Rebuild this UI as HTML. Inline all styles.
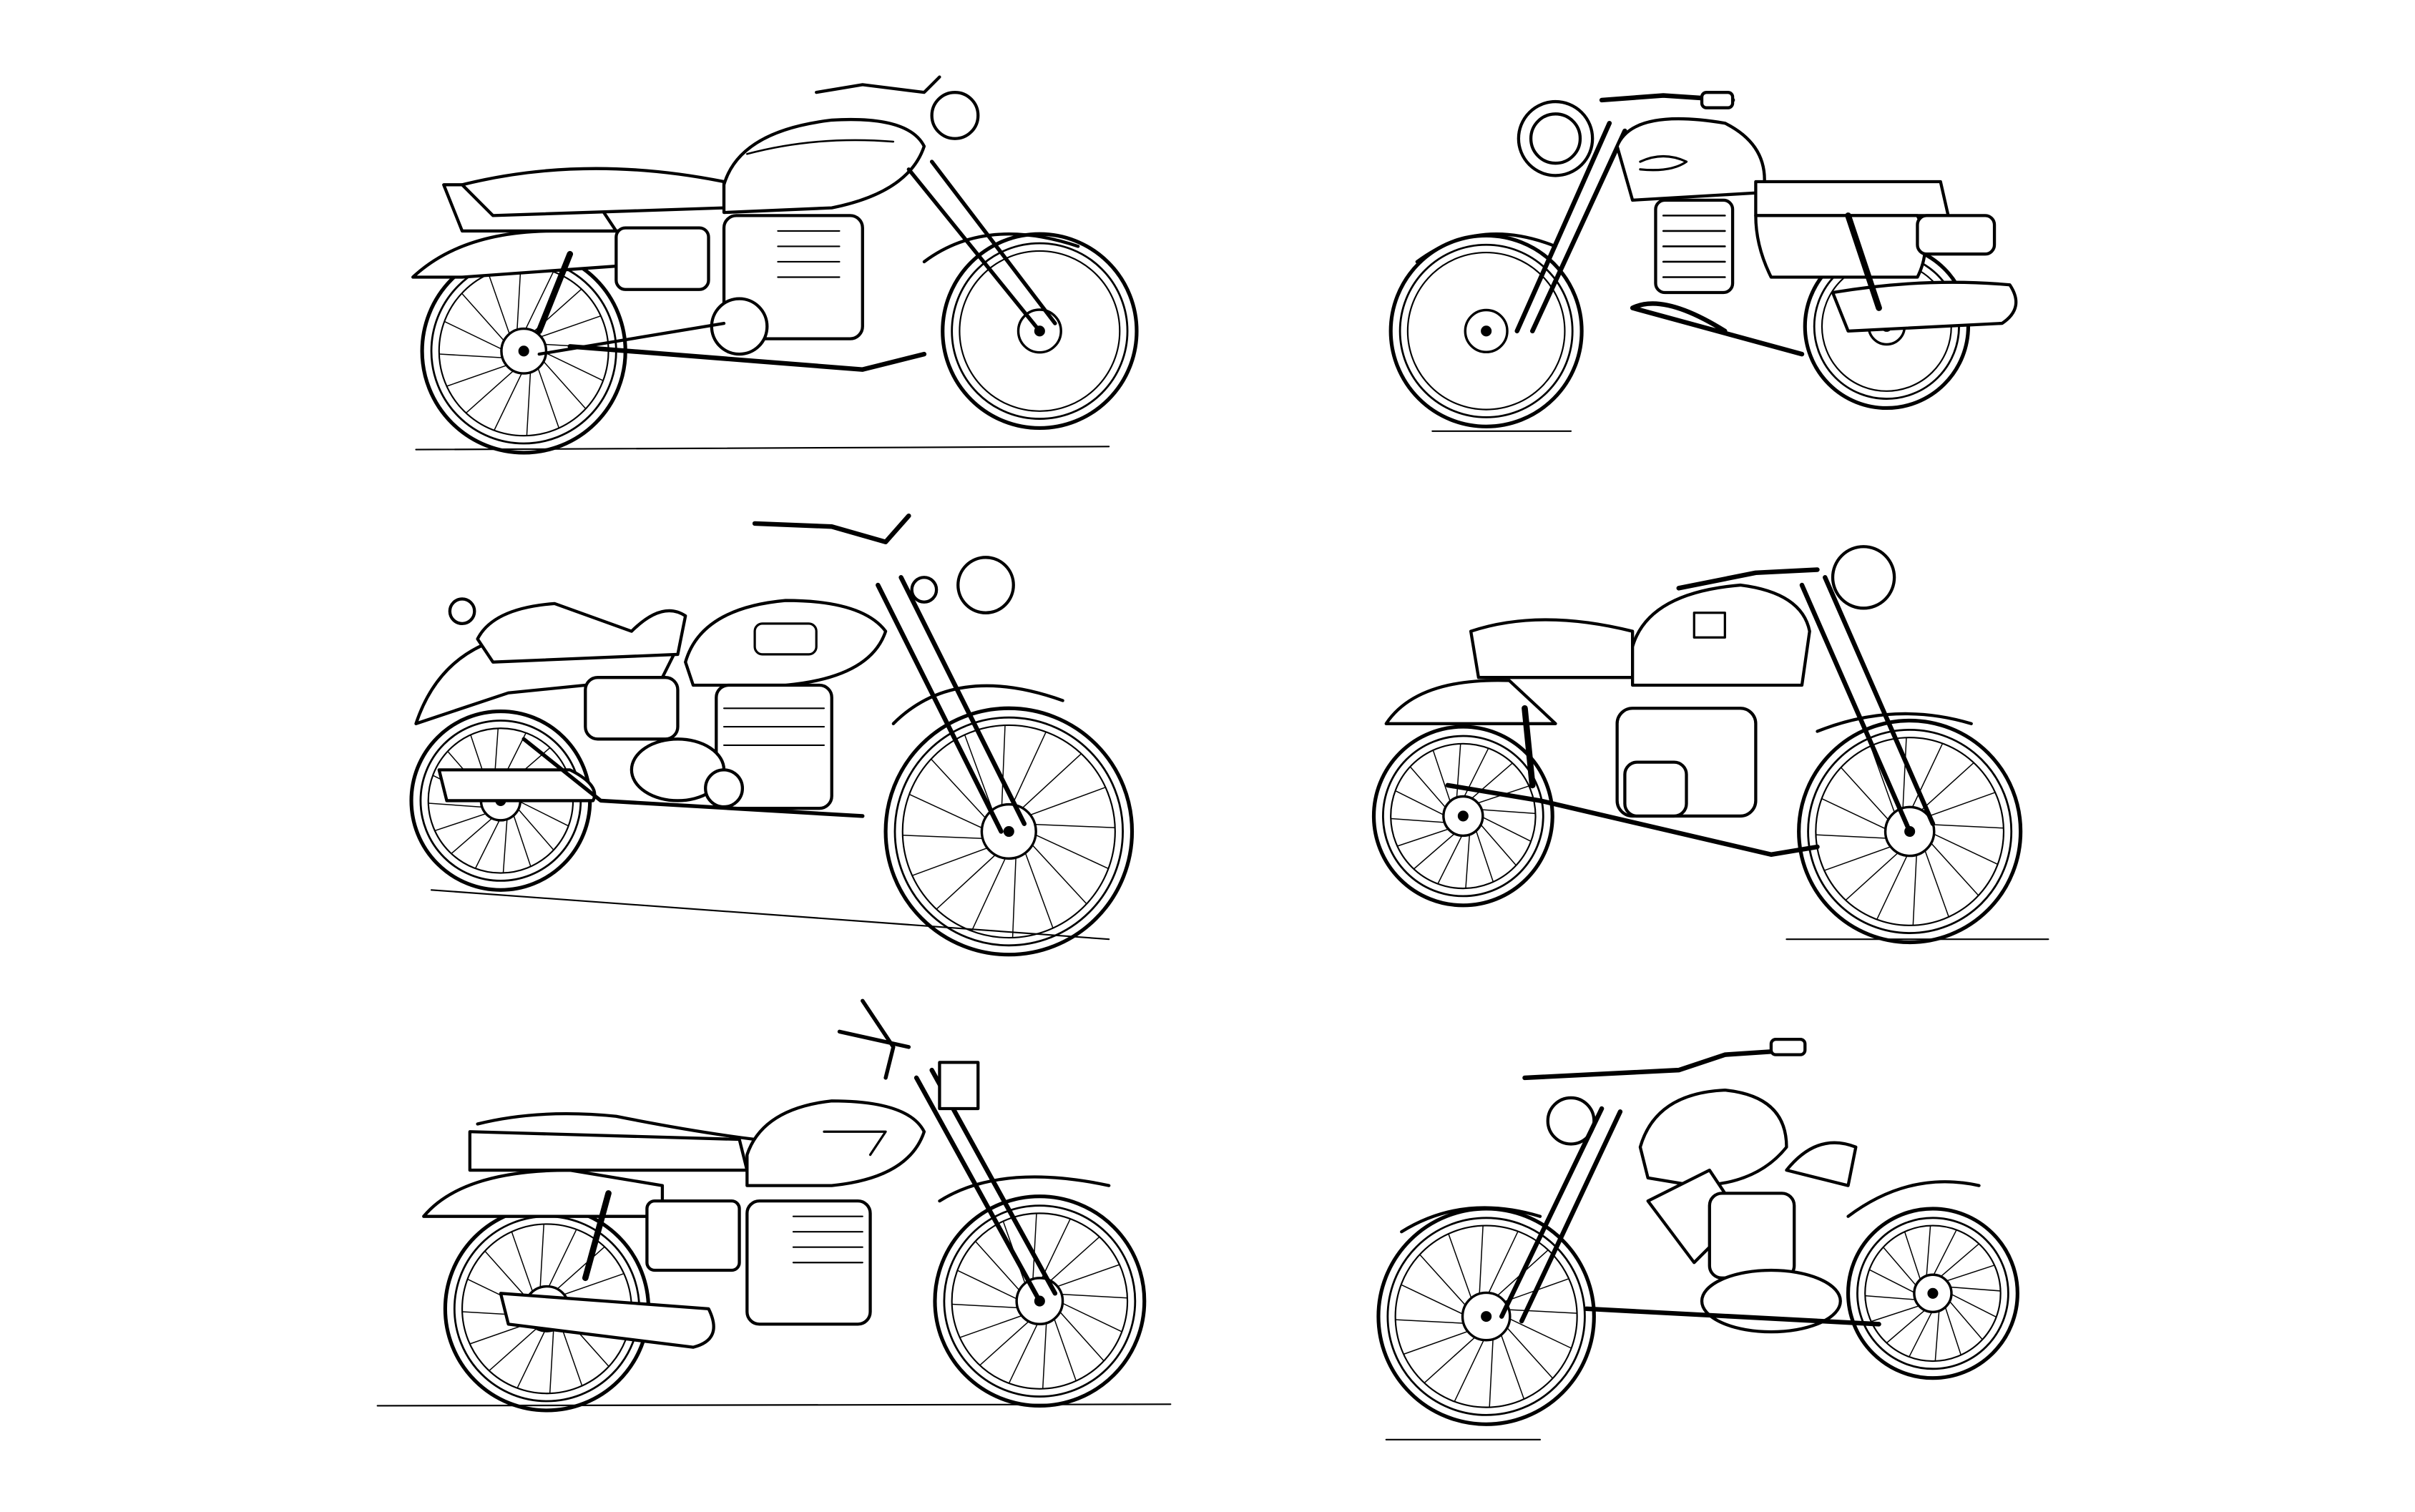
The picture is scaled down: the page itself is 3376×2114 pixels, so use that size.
<!DOCTYPE html>
<html><head><meta charset="utf-8"><style>
html,body{margin:0;padding:0;background:#fff;width:3376px;height:2114px;overflow:hidden}
svg{display:block}
</style></head><body>
<svg id="s" width="3376" height="2114" viewBox="0 0 1568 982" xmlns="http://www.w3.org/2000/svg">
<g id="wheels" fill="#fff" stroke="#000" stroke-linecap="round">
<!-- static tires -->
<g stroke-width="2.4">
<circle cx="340" cy="228" r="66"/><circle cx="675" cy="215" r="63"/>
<circle cx="965" cy="215" r="62"/><circle cx="1225" cy="212" r="53"/>
<circle cx="325" cy="520" r="58"/><circle cx="655" cy="540" r="80"/>
<circle cx="950" cy="530" r="58"/><circle cx="1240" cy="540" r="72"/>
<circle cx="355" cy="850" r="66"/><circle cx="675" cy="845" r="68"/>
<circle cx="965" cy="855" r="70"/><circle cx="1255" cy="840" r="55"/>
</g>
</g>
<g fill="none" stroke="#000" stroke-width="2" stroke-linecap="round" stroke-linejoin="round">

<!-- Bike 1 -->
<line x1="270" y1="292" x2="720" y2="290" stroke-width="1"/>
<path d="M268 180 Q300 150 360 150 L420 150 L440 170 L300 180 Z" fill="#fff"/>
<path d="M288 120 L380 120 L400 150 L300 150 Z" fill="#fff"/>
<path d="M300 120 Q380 100 470 118 L470 135 L320 140 Z" fill="#fff"/>
<path d="M470 120 Q480 85 540 78 Q590 75 600 95 Q590 125 540 135 L470 138 Z" fill="#fff"/>
<path d="M485 100 Q530 88 580 92" stroke-width="1.2"/>
<rect x="400" y="148" width="60" height="40" rx="6" fill="#fff"/>
<rect x="470" y="140" width="90" height="80" rx="8" fill="#fff"/>
<g stroke-width="1"><line x1="505" y1="150" x2="545" y2="150"/><line x1="505" y1="160" x2="545" y2="160"/><line x1="505" y1="170" x2="545" y2="170"/><line x1="505" y1="180" x2="545" y2="180"/></g>
<circle cx="480" cy="212" r="18" fill="#fff"/>
<path d="M370 225 L560 240 L600 230" stroke-width="3"/>
<path d="M350 230 L470 210"/>
<path d="M370 165 L350 215" stroke-width="4"/>
<path d="M590 110 L675 215 M605 105 L685 210" stroke-width="2.5"/>
<circle cx="620" cy="75" r="15" fill="#fff"/>
<path d="M530 60 L560 55 L600 60 L610 50"/>
<path d="M600 170 Q640 140 700 160"/>

<!-- Bike 2 -->
<line x1="930" y1="280" x2="1020" y2="280" stroke-width="1"/>
<circle cx="1010" cy="90" r="24" fill="#fff"/>
<circle cx="1010" cy="90" r="16"/>
<path d="M1040 65 L1080 62 L1125 65" stroke-width="3"/>
<rect x="1105" y="60" width="20" height="10" rx="3" fill="#fff"/>
<path d="M1045 80 L985 215 M1055 85 L995 215" stroke-width="3"/>
<path d="M1050 95 Q1060 70 1120 80 Q1150 95 1145 125 L1060 130 Z" fill="#fff"/>
<path d="M1065 105 Q1080 98 1095 105 Q1085 112 1065 110" stroke-width="1.5"/>
<path d="M1140 118 L1260 118 L1265 140 L1140 140 Z" fill="#fff"/>
<path d="M1140 140 L1245 140 Q1255 160 1245 180 L1150 180 Q1140 160 1140 140 Z" fill="#fff"/>
<rect x="1245" y="140" width="50" height="25" rx="6" fill="#fff"/>
<rect x="1075" y="130" width="50" height="60" rx="6" fill="#fff"/>
<g stroke-width="1.2"><line x1="1080" y1="140" x2="1120" y2="140"/><line x1="1080" y1="150" x2="1120" y2="150"/><line x1="1080" y1="160" x2="1120" y2="160"/><line x1="1080" y1="170" x2="1120" y2="170"/><line x1="1080" y1="180" x2="1120" y2="180"/></g>
<path d="M1060 200 L1170 230 M1060 200 Q1080 190 1120 215" stroke-width="3"/>
<path d="M1190 190 Q1250 180 1305 185 Q1315 200 1300 210 L1200 215 Z" fill="#fff"/>
<path d="M1200 140 L1220 200" stroke-width="4"/>
<path d="M920 170 Q960 140 1010 160"/>

<!-- Bike 3 -->
<line x1="280" y1="578" x2="720" y2="610" stroke-width="1"/>
<path d="M270 470 Q290 410 360 410 L440 420 L430 440 L330 450 Z" fill="#fff"/>
<path d="M310 415 Q320 395 360 392 L410 410 Q430 390 445 400 L440 425 L320 430 Z" fill="#fff"/>
<circle cx="300" cy="397" r="8" fill="#fff"/>
<path d="M445 430 Q455 395 510 390 Q560 390 575 410 Q565 440 510 445 L450 445 Z" fill="#fff"/>
<rect x="490" y="405" width="40" height="20" rx="5" stroke-width="1.5"/>
<rect x="380" y="440" width="60" height="40" rx="8" fill="#fff"/>
<rect x="465" y="445" width="75" height="80" rx="8" fill="#fff"/>
<g stroke-width="1"><line x1="470" y1="460" x2="535" y2="460"/><line x1="470" y1="472" x2="535" y2="472"/><line x1="470" y1="484" x2="535" y2="484"/></g>
<ellipse cx="440" cy="500" rx="30" ry="20" fill="#fff"/>
<circle cx="470" cy="512" r="12" fill="#fff"/>
<path d="M285 500 L370 500 Q390 510 385 520 L290 520 Z" fill="#fff"/>
<path d="M340 480 L390 520 L560 530" stroke-width="2.5"/>
<path d="M570 380 L650 540 M585 375 L665 535" stroke-width="3"/>
<circle cx="640" cy="380" r="18" fill="#fff"/>
<circle cx="600" cy="383" r="8" fill="#fff"/>
<path d="M490 340 L540 342 L575 352 L590 335" stroke-width="3"/>
<path d="M580 470 Q620 430 690 455"/>

<!-- Bike 4 -->
<line x1="1160" y1="610" x2="1330" y2="610" stroke-width="1"/>
<path d="M900 470 Q920 440 980 442 L1010 470 Z" fill="#fff"/>
<path d="M955 410 Q1000 395 1060 410 L1060 440 L960 440 Z" fill="#fff"/>
<path d="M1060 420 Q1070 385 1130 380 Q1170 385 1175 410 L1170 445 L1060 445 Z" fill="#fff"/>
<rect x="1100" y="398" width="20" height="16" stroke-width="1.5"/>
<rect x="1050" y="460" width="90" height="70" rx="10" fill="#fff"/>
<rect x="1055" y="495" width="40" height="35" rx="8" fill="#fff"/>
<path d="M990 460 L995 510" stroke-width="4"/>
<path d="M940 510 L1000 520 L1150 555 L1180 550" stroke-width="3"/>
<path d="M1170 380 L1240 540 M1185 375 L1255 535" stroke-width="3"/>
<circle cx="1210" cy="375" r="20" fill="#fff"/>
<path d="M1090 382 L1140 372 L1180 370" stroke-width="3"/>
<path d="M1180 475 Q1230 455 1280 470"/>

<!-- Bike 5 -->
<line x1="245" y1="913" x2="760" y2="912" stroke-width="1"/>
<path d="M275 790 Q300 760 370 760 L430 770 L430 790 Z" fill="#fff"/>
<path d="M305 735 L480 740 L485 760 L305 760 Z" fill="#fff"/>
<path d="M310 730 Q350 720 400 725 Q450 735 490 740"/>
<path d="M485 750 Q495 720 540 715 Q590 715 600 735 Q590 765 540 770 L485 770 Z" fill="#fff"/>
<path d="M535 735 L575 735 L565 750" stroke-width="1.5"/>
<rect x="420" y="780" width="60" height="45" rx="5" fill="#fff"/>
<rect x="485" y="780" width="80" height="80" rx="8" fill="#fff"/>
<g stroke-width="1"><line x1="515" y1="790" x2="560" y2="790"/><line x1="515" y1="800" x2="560" y2="800"/><line x1="515" y1="810" x2="560" y2="810"/><line x1="515" y1="820" x2="560" y2="820"/></g>
<path d="M325 840 L460 850 Q470 870 450 875 L330 860 Z" fill="#fff"/>
<path d="M395 775 L380 830" stroke-width="4"/>
<path d="M595 700 L675 845 M605 695 L685 840" stroke-width="3"/>
<rect x="610" y="690" width="25" height="30" fill="#fff"/>
<path d="M560 650 L580 680 L575 700 M545 670 L590 680" stroke-width="2.5"/>
<path d="M610 780 Q650 755 720 770"/>

<!-- Bike 6 -->
<line x1="900" y1="935" x2="1000" y2="935" stroke-width="1"/>
<path d="M990 700 L1090 695 L1120 685 L1165 682" stroke-width="3"/>
<rect x="1150" y="675" width="22" height="10" rx="3" fill="#fff"/>
<circle cx="1020" cy="728" r="15" fill="#fff"/>
<path d="M1040 720 L975 855 M1052 722 L988 858" stroke-width="3"/>
<path d="M1065 745 Q1075 710 1120 708 Q1160 712 1160 745 Q1140 770 1100 770 L1070 765 Z" fill="#fff"/>
<path d="M1160 760 Q1180 735 1205 745 L1200 770 Z" fill="#fff"/>
<path d="M1070 780 L1110 760 L1130 790 L1100 820 Z" fill="#fff"/>
<rect x="1110" y="775" width="55" height="55" rx="8" fill="#fff"/>
<ellipse cx="1150" cy="845" rx="45" ry="20" fill="#fff"/>
<path d="M1030 850 L1220 860" stroke-width="3"/>
<path d="M1200 790 Q1240 760 1285 770"/>
<path d="M910 800 Q950 775 1000 790"/>
</g>
</svg>
<script>
(function(){
var W=[[340,228,66],[675,215,63],[965,215,62],[1225,212,53],[325,520,58],[655,540,80],[950,530,58],[1240,540,72],[355,850,66],[675,845,68],[965,855,70],[1255,840,55]];
var g=document.getElementById('wheels'),ns='http://www.w3.org/2000/svg',h='';
W.forEach(function(w,i){var x=w[0],y=w[1],r=w[2];
h+='<circle cx="'+x+'" cy="'+y+'" r="'+(r-6)+'" fill="none" stroke-width="1.3"/>';
h+='<circle cx="'+x+'" cy="'+y+'" r="'+(r-11)+'" fill="none" stroke-width="1"/>';
if(i!=1&&i!=2&&i!=3){for(var k=0;k<16;k++){var a=k*Math.PI/8+0.2,b=a+Math.PI*0.8;
h+='<line x1="'+(x+Math.cos(a)*10)+'" y1="'+(y+Math.sin(a)*10)+'" x2="'+(x+Math.cos(b)*(r-11))+'" y2="'+(y+Math.sin(b)*(r-11))+'" stroke-width="0.7"/>';}}
h+='<circle cx="'+x+'" cy="'+y+'" r="'+(r*0.22)+'" fill="#fff" stroke-width="1.6"/>';
h+='<circle cx="'+x+'" cy="'+y+'" r="3" fill="#000"/>';});
g.insertAdjacentHTML('beforeend',h);
})();
</script>
</body></html>
